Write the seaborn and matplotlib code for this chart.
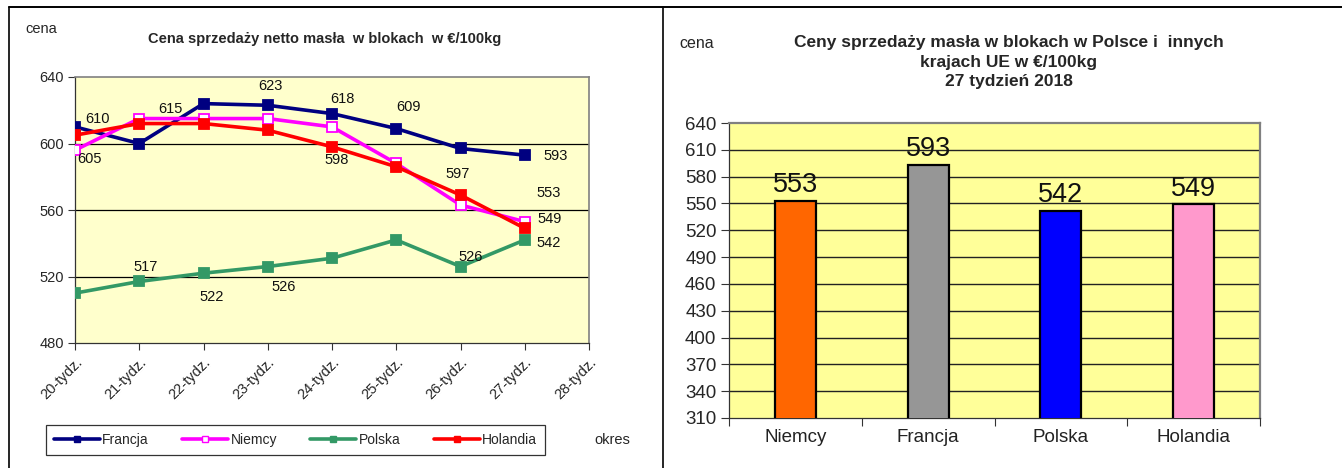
import pandas as pd
import seaborn as sns
import matplotlib.pyplot as plt
from matplotlib.lines import Line2D

# data
weeks = ["20-tydz.", "21-tydz.", "22-tydz.", "23-tydz.", "24-tydz.",
         "25-tydz.", "26-tydz.", "27-tydz.", "28-tydz."]
francja = [610, 600, 624, 623, 618, 609, 597, 593]
niemcy = [596, 615, 615, 615, 610, 588, 563, 553]
polska = [510, 517, 522, 526, 531, 542, 526, 542]
holandia = [605, 612, 612, 608, 598, 586, 569, 549]

bar_countries = ["Niemcy", "Francja", "Polska", "Holandia"]
bar_values = [553, 593, 542, 549]

series = {"Francja": francja, "Niemcy": niemcy, "Polska": polska, "Holandia": holandia}
line_colors = {"Francja": "#000080", "Niemcy": "#FF00FF", "Polska": "#339966", "Holandia": "#FF0000"}
bar_colors = ["#FF6600", "#969696", "#0000FF", "#FF99CC"]

# which points get a value label, and where (offset in px from the point)
label_offsets = {
    ("Francja", 0): (22, 8), ("Holandia", 0): (15, -24), ("Niemcy", 1): (31, 10),
    ("Francja", 3): (3, 19), ("Francja", 4): (10, 15), ("Francja", 5): (12, 22),
    ("Holandia", 4): (5, -13), ("Francja", 6): (-3, -26), ("Francja", 7): (31, -1),
    ("Niemcy", 7): (24, 29), ("Holandia", 7): (25, 9), ("Polska", 7): (24, -3),
    ("Polska", 6): (10, 10), ("Polska", 1): (6, 14), ("Polska", 2): (8, -24),
    ("Polska", 3): (16, -20),
}

sns.set_style("white")
plt.rcParams["font.family"] = ["Liberation Sans Narrow", "Liberation Sans", "DejaVu Sans"]

W, H = 1342, 468
fig = plt.figure(figsize=(W / 100, H / 100), dpi=100)


def box(l, t, r, b):
    return [l / W, 1 - b / H, (r - l) / W, (b - t) / H]


# ---------------- left: line chart ----------------
ax1 = fig.add_axes(box(75, 77, 589, 343))
ax1.set_facecolor("#FFFFCC")
rows = []
for name, vals in series.items():
    for i, v in enumerate(vals):
        rows.append({"kraj": name, "x": i, "cena": v})
df = pd.DataFrame(rows)

for name in series:
    sub = df[df["kraj"] == name]
    face = "white" if name == "Niemcy" else line_colors[name]
    sns.lineplot(data=sub, x="x", y="cena", ax=ax1, color=line_colors[name],
                 lw=2.6, marker="s", markersize=7, markerfacecolor=face,
                 markeredgecolor=line_colors[name], markeredgewidth=1.3,
                 label=name, legend=False, zorder=3)

for (name, i), (dx, dy) in label_offsets.items():
    v = series[name][i]
    ax1.annotate(str(v), (i, v), xytext=(dx * 0.72, dy * 0.72), textcoords="offset points",
                 ha="center", va="center", fontsize=10.5, color="#111111", zorder=4)

ax1.set_xlim(0, 8)
ax1.set_ylim(480, 640)
ax1.set_yticks([480, 520, 560, 600, 640])
ax1.set_xticks(range(len(weeks)))
ax1.set_xticklabels(weeks, rotation=45, ha="right", rotation_mode="anchor", fontsize=10.5)
ax1.tick_params(axis="y", labelsize=10.5, length=5, width=0.8, color="#333333", pad=3, direction="out", left=True)
ax1.tick_params(axis="x", length=5, width=0.8, color="#333333", pad=4, direction="out", bottom=True)
ax1.set_xlabel("")
ax1.set_ylabel("")
for v in [520, 560, 600]:
    ax1.axhline(v, color="black", lw=0.9, zorder=1)
for s in ["top", "right"]:
    ax1.spines[s].set_color("#808080")
    ax1.spines[s].set_linewidth(1.2)
for s in ["left", "bottom"]:
    ax1.spines[s].set_color("#333333")
    ax1.spines[s].set_linewidth(0.9)

handles = [Line2D([0], [0], color=line_colors[n], lw=2.6, marker="s", markersize=5,
                  markerfacecolor="white" if n == "Niemcy" else line_colors[n],
                  markeredgecolor=line_colors[n]) for n in series]
leg = fig.legend(handles, list(series.keys()), loc="center", ncol=4, mode="expand",
                 bbox_to_anchor=(46 / W, 1 - 457 / H, 499 / W, 34 / H),
                 fontsize=10, frameon=True, fancybox=False, handlelength=3.3,
                 handletextpad=0.15, borderaxespad=0, borderpad=0.6)
leg.get_frame().set_edgecolor("black")
leg.get_frame().set_linewidth(0.9)

fig.text(41 / W, 1 - 29 / H, "cena", fontsize=10.5, ha="center", va="center")
fig.text(325 / W, 1 - 39 / H, "Cena sprzedaży netto masła  w blokach  w €/100kg",
         fontsize=10.5, fontweight="bold", ha="center", va="center")
fig.text(612 / W, 1 - 440 / H, "okres", fontsize=10.5, ha="center", va="center")

# ---------------- right: bar chart ----------------
ax2 = fig.add_axes(box(729, 123, 1260, 418))
ax2.set_facecolor("#FFFF99")
bdf = pd.DataFrame({"kraj": bar_countries, "cena": bar_values})
sns.barplot(data=bdf, x="kraj", y="cena", hue="kraj", palette=bar_colors, legend=False,
            saturation=1, width=0.31, edgecolor="black", linewidth=1.6, ax=ax2, zorder=3)
for i, v in enumerate(bar_values):
    ax2.annotate(str(v), (i, v), xytext=(0, 2), textcoords="offset points",
                 ha="center", va="bottom", fontsize=19.5, color="#111111", zorder=4)

ax2.set_ylim(310, 640)
yt = list(range(310, 641, 30))
ax2.set_yticks(yt)
ax2.set_xlim(-0.5, 3.5)
ax2.set_xticks([-0.5, 0.5, 1.5, 2.5, 3.5])
ax2.set_xticklabels([])
ax2.set_xticks(range(4), minor=True)
ax2.set_xticklabels(bar_countries, minor=True, fontsize=13.5, color="#222222")
ax2.tick_params(axis="x", which="major", length=6, width=0.8, color="#333333", bottom=True)
ax2.tick_params(axis="x", which="minor", length=0, pad=8)
ax2.tick_params(axis="y", labelsize=13.5, length=6, width=0.8, color="#333333", pad=3, left=True)
ax2.set_xlabel("")
ax2.set_ylabel("")
for v in yt[1:-1]:
    ax2.axhline(v, color="#222222", lw=1.0, zorder=1)
for s in ["top", "right"]:
    ax2.spines[s].set_color("#808080")
    ax2.spines[s].set_linewidth(1.6)
for s in ["left", "bottom"]:
    ax2.spines[s].set_color("#333333")
    ax2.spines[s].set_linewidth(0.9)

fig.text(697 / W, 1 - 43 / H, "cena", fontsize=11.5, ha="center", va="center")
fig.text(1009 / W, 1 - 62 / H,
         "Ceny sprzedaży masła w blokach w Polsce i  innych\nkrajach UE w €/100kg\n27 tydzień 2018",
         fontsize=12.5, fontweight="bold", ha="center", va="center", linespacing=1.4)

# document table borders
fig.add_artist(Line2D([9 / W, 1], [1 - 7 / H, 1 - 7 / H], color="black", lw=1.4))
fig.add_artist(Line2D([9 / W, 9 / W], [0, 1 - 7 / H], color="black", lw=1.2))
fig.add_artist(Line2D([663 / W, 663 / W], [0, 1 - 7 / H], color="black", lw=1.2))

fig.savefig("out.png", dpi=100)
